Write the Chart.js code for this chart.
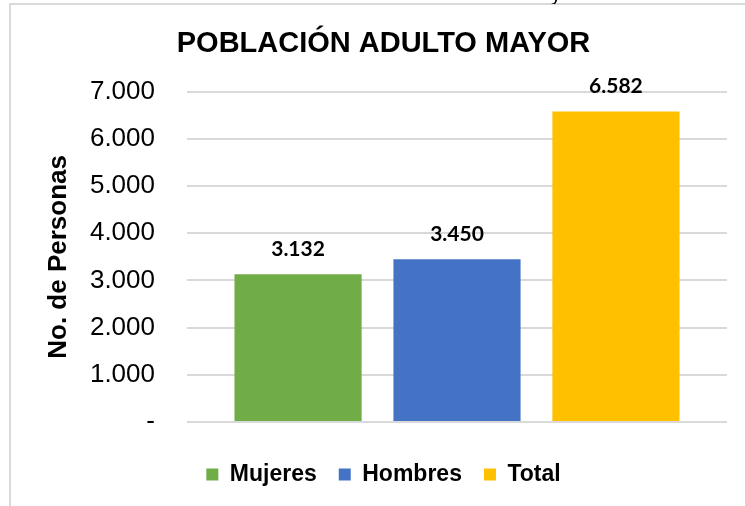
<!DOCTYPE html>
<html>
<head>
<meta charset="utf-8">
<script src="https://cdn.jsdelivr.net/npm/chart.js@4/dist/chart.umd.min.js"></script>
<style>
  html, body { margin: 0; padding: 0; background: #fff; }
  #wrap { position: relative; width: 745px; height: 506px; overflow: hidden; }
  #frame { position: absolute; left: 9px; top: 3px; width: 900px; height: 700px;
           border-left: 2px solid #d9d9d9; border-top: 2px solid #d9d9d9; pointer-events: none; }
  #cut { position: absolute; left: 551px; top: 0; height: 4px; width: 20px; overflow: hidden; }
  #cut span { position: absolute; top: -16px; left: 0; font: 20px "Liberation Sans", Arial, sans-serif; line-height: 20px; color: #000; }
  canvas { position: absolute; left: 0; top: 0; }
</style>
</head>
<body>
<div id="wrap">
  <canvas id="c" width="745" height="506"></canvas>
  <div id="frame"></div>
  <div id="cut"><span>y</span></div>
</div>
<script>
const chartTitle = 'POBLACIÓN ADULTO MAYOR';
const yAxisTitle = 'No. de Personas';
const categories = [''];
const seriesNames = ['Mujeres', 'Hombres', 'Total'];
const seriesValues = [3132, 3450, 6582];
const valueLabels = ['3.132', '3.450', '6.582'];
const seriesColors = ['#70AD47', '#4472C4', '#FFC000'];
const yTickLabels = ['-', '1.000', '2.000', '3.000', '4.000', '5.000', '6.000', '7.000'];

const datasets = seriesNames.map((name, i) => ({
  label: name,
  data: [seriesValues[i]],
  backgroundColor: seriesColors[i],
  borderWidth: 0,
  categoryPercentage: 0.883,
  barPercentage: 0.8
}));

const valueLabelPlugin = {
  id: 'valueLabels',
  afterDatasetsDraw(chart) {
    const ctx = chart.ctx;
    ctx.save();
    ctx.font = 'bold 21px Lato, "Open Sans", sans-serif';
    ctx.fillStyle = '#000';
    ctx.textAlign = 'center';
    ctx.textBaseline = 'middle';
    chart.data.datasets.forEach((ds, i) => {
      const meta = chart.getDatasetMeta(i);
      meta.data.forEach(bar => {
        ctx.fillText(valueLabels[i], bar.x, bar.y - 25);
      });
    });
    ctx.restore();
  }
};

new Chart(document.getElementById('c'), {
  type: 'bar',
  data: { labels: categories, datasets },
  plugins: [valueLabelPlugin],
  options: {
    responsive: false,
    animation: false,
    devicePixelRatio: 1,
    layout: { padding: { left: 40, right: 18, top: 0, bottom: 10 } },
    plugins: {
      tooltip: { enabled: false },
      title: {
        display: true,
        text: chartTitle,
        color: '#000',
        font: { family: '"Liberation Sans", Arial, sans-serif', size: 29, weight: 'bold', lineHeight: 1.2 },
        padding: { top: 27, bottom: 30 }
      },
      legend: {
        position: 'bottom',
        labels: {
          boxWidth: 12,
          boxHeight: 12,
          padding: 22,
          color: '#000',
          font: { family: '"Liberation Sans", Arial, sans-serif', size: 23, weight: 'bold' }
        }
      }
    },
    scales: {
      x: {
        display: true,
        grid: { display: true, drawOnChartArea: false, drawTicks: true, tickLength: 19, color: 'rgba(0,0,0,0)' },
        border: { display: false },
        ticks: { display: false }
      },
      y: {
        min: 0,
        max: 7000,
        afterFit(scale) { scale.width = 147; },
        ticks: {
          stepSize: 1000,
          padding: 32,
          color: '#000',
          font: { family: '"Liberation Sans", Arial, sans-serif', size: 26 },
          callback: (v, idx) => yTickLabels[idx]
        },
        grid: { color: '#d9d9d9', lineWidth: 2, drawTicks: false },
        border: { display: false },
        title: {
          display: true,
          text: yAxisTitle,
          color: '#000',
          font: { family: '"Liberation Sans", Arial, sans-serif', size: 26, weight: 'bold', lineHeight: 1.2 },
          padding: { top: 3, bottom: 0 }
        }
      }
    }
  }
});
</script>
</body>
</html>
